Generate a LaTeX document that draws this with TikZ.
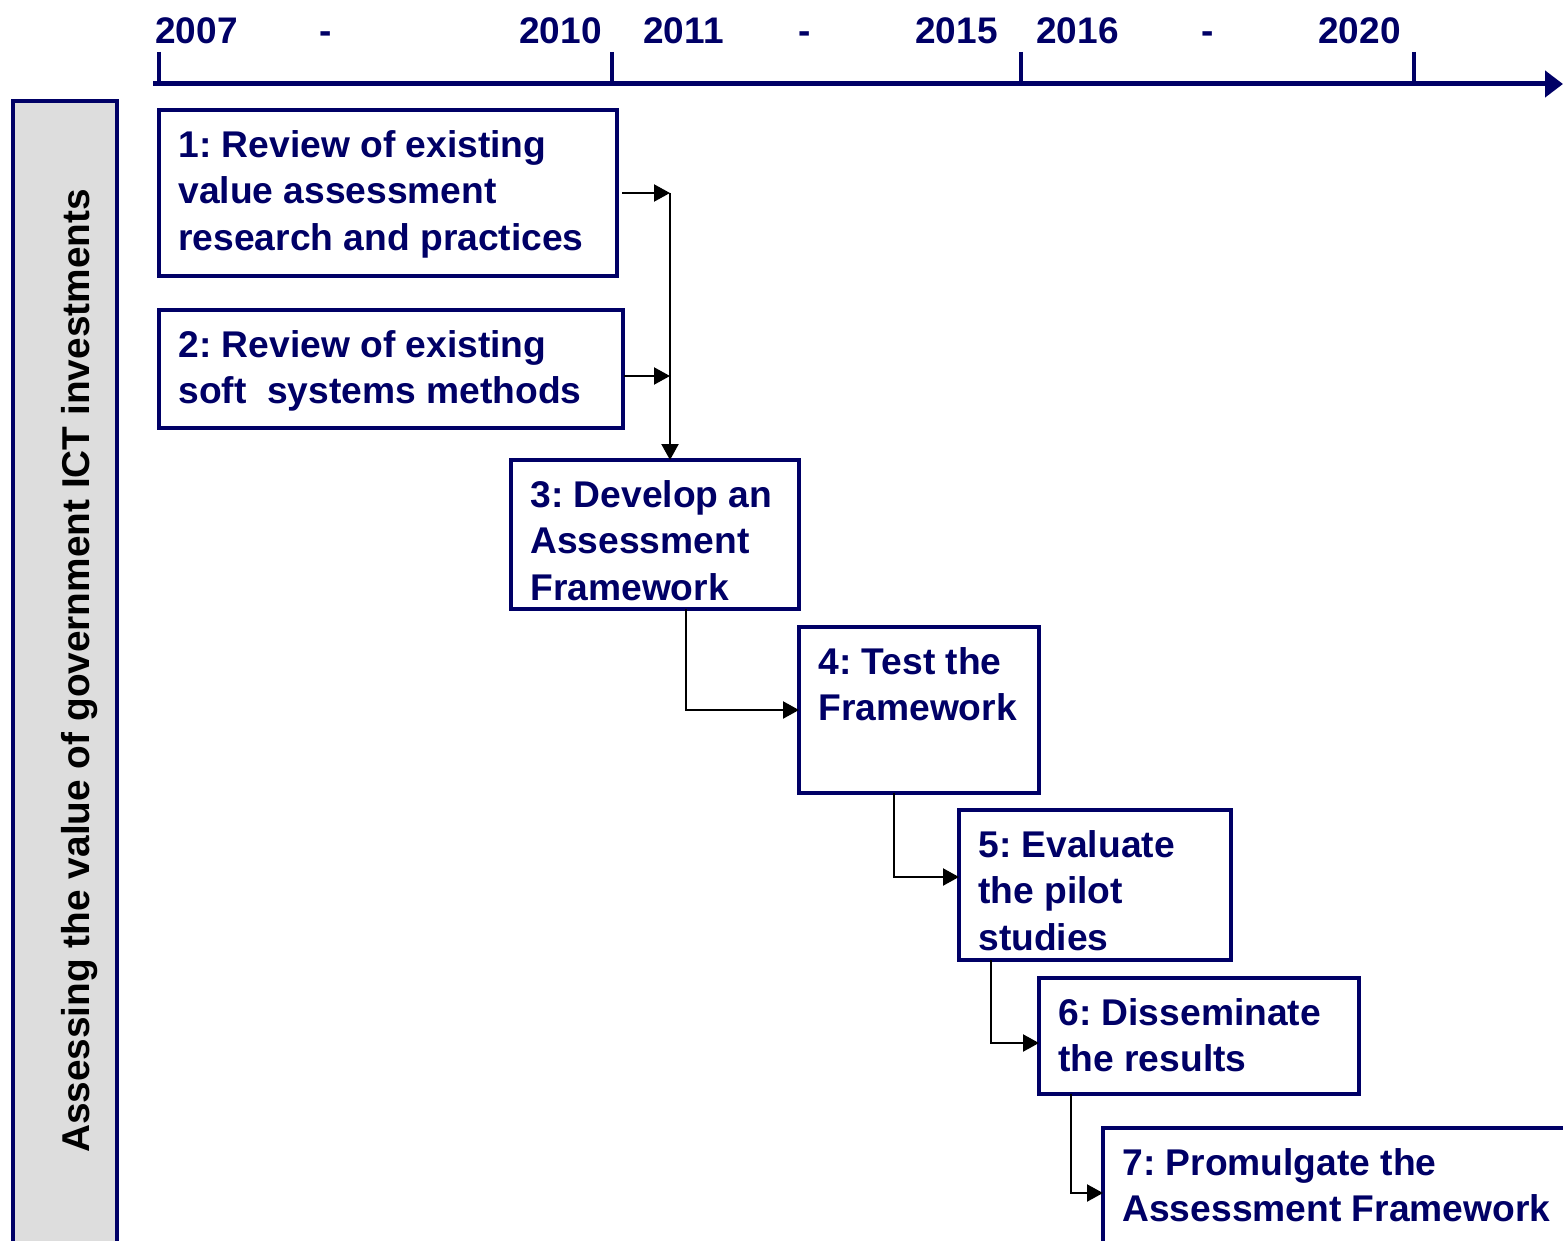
\documentclass[tikz,border=0pt]{standalone}
\usepackage{fontspec}
\setmainfont{Liberation Sans}
\usetikzlibrary{arrows.meta,fit}
\definecolor{navy}{RGB}{0,0,102}
\definecolor{barfill}{RGB}{221,221,221}
\frenchspacing
\begin{document}
\begin{tikzpicture}[x=0.5pt,y=-0.5pt,
 box/.style={draw=navy,line width=1.6pt,inner sep=0pt,outer sep=0pt,rectangle},
 txt/.style={anchor=north west,align=left,inner sep=0pt,text=navy,font=\fontsize{18.6}{23.25}\selectfont\bfseries\frenchspacing},
 year/.style={anchor=base west,inner sep=0pt,text=navy,font=\fontsize{18.5}{23.25}\selectfont\bfseries},
 conn/.style={line width=1.1pt,-{Triangle[length=8pt,width=8.5pt]}},
 tick/.style={navy,line width=2pt},
 ]
\clip (0,0) rectangle (1563,1241);
% time axis
\coordinate (ax0) at (153,84);
\coordinate (ax1) at (1563,84);
\draw[navy,line width=2.5pt,-{Triangle[length=9pt,width=13pt]}] (ax0) -- (ax1);
\foreach \x in {159,612,1021,1414} \draw[tick] (\x,52) -- (\x,84);
\node[year] (y2007) at (155,44) {2007};
\node[year,anchor=base] (d1) at (326,44) {-};
\node[year] (y2010) at (519,44) {2010};
\node[year] (y2011) at (643,44) {2011};
\node[year,anchor=base] (d2) at (805,44) {-};
\node[year] (y2015) at (915,44) {2015};
\node[year] (y2016) at (1036,44) {2016};
\node[year,anchor=base] (d3) at (1208,44) {-};
\node[year] (y2020) at (1318,44) {2020};
% left bar
\node[box,line width=2pt,fill=barfill,fit={(13,101) (117,1300)}] (bar) {};
\node[rotate=90,anchor=base,inner sep=0pt,font=\fontsize{19.4}{23.25}\selectfont\bfseries] (vt) at (89,671) {Assessing the value of government ICT investments};
% boxes
\node[box,fit={(159,110) (617,276)}] (b1) {};
\node[box,fit={(159,310) (623,428)}] (b2) {};
\node[box,fit={(511,460) (799,609)}] (b3) {};
\node[box,fit={(799,627) (1039,793)}] (b4) {};
\node[box,fit={(959,810) (1231,960)}] (b5) {};
\node[box,fit={(1039,978) (1359,1094)}] (b6) {};
\node[box,fit={(1103,1128) (1640,1320)}] (b7) {};
\tikzset{tshift/.style={shift={(9.5pt,-10pt)}}}
\node[txt] (t1) at ([tshift]b1.north west) {1: Review of existing\\value assessment\\research and practices};
\node[txt] (t2) at ([tshift]b2.north west) {2: Review of existing\\soft\ \ systems methods};
\node[txt] (t3) at ([tshift]b3.north west) {3: Develop an\\Assessment\\Framework};
\node[txt] (t4) at ([tshift]b4.north west) {4: Test the\\Framework};
\node[txt] (t5) at ([tshift]b5.north west) {5: Evaluate\\the pilot\\studies};
\node[txt] (t6) at ([tshift]b6.north west) {6: Disseminate\\the results};
\node[txt] (t7) at ([tshift]b7.north west) {7: Promulgate the\\Assessment Framework};
% connectors
\coordinate (j) at (670,193);
\coordinate (j2) at (670,376);
\draw[conn] ([xshift=2.5pt]b1.east) -- (j);
\draw[conn] ([xshift=0.5pt]b2.east |- j2) -- (j2);
\draw[conn] (j) -- (j |- b3.north);
\coordinate (k3) at (686,710);
\coordinate (k4) at (894,877);
\coordinate (k5) at (991,1043);
\coordinate (k6) at (1071,1193);
\draw[conn] (k3 |- b3.south) -- (k3) -- (k3 -| b4.west);
\draw[conn] (k4 |- b4.south) -- (k4) -- (k4 -| b5.west);
\draw[conn] (k5 |- b5.south) -- (k5) -- (k5 -| b6.west);
\draw[conn] (k6 |- b6.south) -- (k6) -- (k6 -| b7.west);
\end{tikzpicture}
\end{document}
